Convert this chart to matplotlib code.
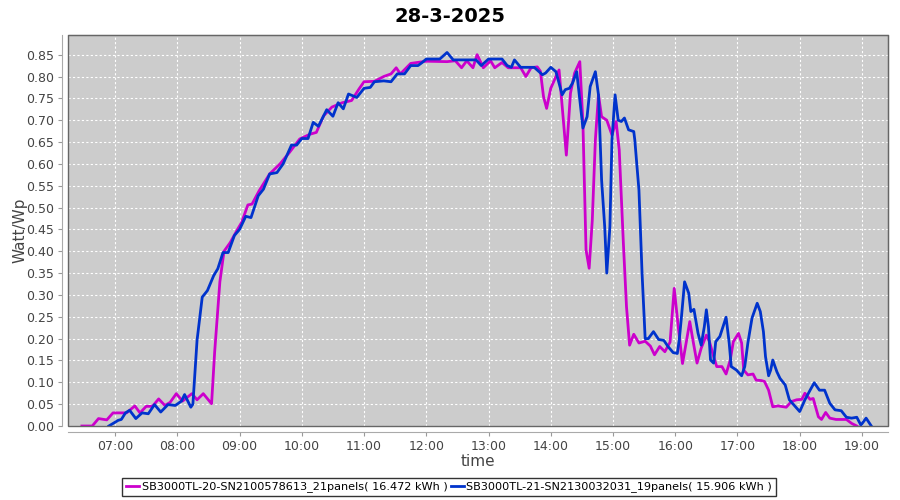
import matplotlib
matplotlib.use("Agg")
import matplotlib.pyplot as plt
import matplotlib.dates as mdates
from matplotlib.patches import Rectangle
import pandas as pd

day = "2025-03-28 "

# SB3000TL-20 (magenta)
sb20_times = ["06:28", "06:38", "06:44", "06:52", "06:58", "07:11", "07:19", "07:24", "07:30", "07:36",
              "07:42", "07:48", "07:53", "07:59", "08:05", "08:14", "08:19", "08:25", "08:33", "08:36",
              "08:41", "08:45", "08:48", "08:51", "08:58", "09:02", "09:08", "09:12", "09:19", "09:29",
              "09:39", "09:48", "09:58", "10:08", "10:14", "10:21", "10:29", "10:39", "10:48", "10:55",
              "11:00", "11:10", "11:19", "11:26", "11:31", "11:35", "11:45", "12:00", "12:20", "12:28",
              "12:34", "12:39", "12:45", "12:49", "12:55", "13:02", "13:06", "13:13", "13:19", "13:31",
              "13:36", "13:41", "13:47", "13:50", "13:53", "13:56", "14:00", "14:05", "14:08", "14:11",
              "14:15", "14:19", "14:23", "14:28", "14:31", "14:34", "14:37", "14:40", "14:43", "14:46",
              "14:49", "14:54", "14:59", "15:03", "15:06", "15:10", "15:13", "15:16", "15:20", "15:25",
              "15:31", "15:36", "15:40", "15:45", "15:50", "15:55", "15:59", "16:03", "16:07", "16:11",
              "16:14", "16:17", "16:21", "16:25", "16:30", "16:33", "16:37", "16:40", "16:45", "16:49",
              "16:53", "16:56", "17:01", "17:04", "17:06", "17:10", "17:15", "17:18", "17:23", "17:26",
              "17:30", "17:34", "17:39", "17:47", "17:52", "17:57", "18:02", "18:05", "18:10", "18:13",
              "18:18", "18:21", "18:25", "18:29", "18:35", "18:45", "18:50", "18:55"]
sb20_vals = [0.0, 0.0, 0.017, 0.014, 0.030, 0.030, 0.046, 0.030, 0.045, 0.045,
             0.062, 0.047, 0.054, 0.074, 0.057, 0.074, 0.060, 0.074, 0.051, 0.17,
             0.33, 0.40, 0.41, 0.42, 0.45, 0.466, 0.506, 0.508, 0.539, 0.577,
             0.600, 0.626, 0.657, 0.668, 0.672, 0.710, 0.730, 0.740, 0.745, 0.771,
             0.788, 0.789, 0.800, 0.806, 0.820, 0.806, 0.830, 0.835, 0.834, 0.836,
             0.820, 0.836, 0.820, 0.850, 0.820, 0.836, 0.820, 0.832, 0.820, 0.820,
             0.800, 0.820, 0.822, 0.812, 0.754, 0.727, 0.773, 0.800, 0.815, 0.731,
             0.620, 0.762, 0.808, 0.834, 0.693, 0.403, 0.361, 0.470, 0.655, 0.758,
             0.708, 0.700, 0.666, 0.697, 0.632, 0.418, 0.273, 0.185, 0.210, 0.190,
             0.194, 0.183, 0.163, 0.182, 0.170, 0.192, 0.315, 0.225, 0.143, 0.197,
             0.239, 0.197, 0.144, 0.178, 0.208, 0.193, 0.159, 0.136, 0.136, 0.119,
             0.151, 0.193, 0.212, 0.190, 0.128, 0.117, 0.119, 0.105, 0.104, 0.102,
             0.082, 0.044, 0.046, 0.043, 0.056, 0.060, 0.061, 0.075, 0.061, 0.063,
             0.021, 0.015, 0.031, 0.018, 0.015, 0.015, 0.006, 0.0]

# SB3000TL-21 (blue)
sb21_times = ["06:54", "07:03", "07:06", "07:10", "07:14", "07:20", "07:26", "07:32", "07:38", "07:44",
              "07:51", "07:58", "08:04", "08:07", "08:13", "08:15", "08:19", "08:24", "08:29", "08:35",
              "08:39", "08:44", "08:49", "08:55", "09:00", "09:06", "09:11", "09:18", "09:23", "09:29",
              "09:36", "09:42", "09:50", "09:55", "10:00", "10:06", "10:11", "10:16", "10:24", "10:30",
              "10:35", "10:40", "10:45", "10:53", "11:00", "11:06", "11:10", "11:19", "11:26", "11:32",
              "11:39", "11:45", "11:52", "11:56", "12:00", "12:13", "12:20", "12:26", "12:39", "12:48",
              "12:53", "13:00", "13:13", "13:18", "13:22", "13:25", "13:31", "13:44", "13:52", "13:55",
              "14:00", "14:05", "14:11", "14:14", "14:18", "14:21", "14:25", "14:28", "14:31", "14:35",
              "14:38", "14:43", "14:46", "14:49", "14:52", "14:54", "14:57", "14:59", "15:02", "15:05",
              "15:08", "15:11", "15:15", "15:20", "15:21", "15:25", "15:28", "15:31", "15:34", "15:39",
              "15:44", "15:49", "15:53", "15:58", "16:02", "16:04", "16:06", "16:09", "16:13", "16:15",
              "16:18", "16:22", "16:25", "16:28", "16:30", "16:32", "16:34", "16:37", "16:39", "16:43",
              "16:46", "16:49", "16:52", "16:54", "16:59", "17:04", "17:07", "17:10", "17:14", "17:19",
              "17:22", "17:25", "17:27", "17:30", "17:32", "17:34", "17:38", "17:41", "17:46", "17:50",
              "17:56", "18:00", "18:05", "18:10", "18:14", "18:19", "18:24", "18:29", "18:34", "18:40",
              "18:45", "18:50", "18:55", "18:59", "19:04", "19:09"]
sb21_vals = [0.0, 0.013, 0.015, 0.030, 0.036, 0.017, 0.030, 0.028, 0.049, 0.032,
             0.049, 0.047, 0.057, 0.072, 0.043, 0.050, 0.196, 0.295, 0.310, 0.344,
             0.360, 0.397, 0.397, 0.436, 0.450, 0.480, 0.477, 0.527, 0.542, 0.577,
             0.580, 0.600, 0.643, 0.643, 0.658, 0.658, 0.695, 0.686, 0.724, 0.709,
             0.740, 0.726, 0.760, 0.752, 0.773, 0.775, 0.788, 0.790, 0.788, 0.806,
             0.806, 0.825, 0.825, 0.832, 0.840, 0.840, 0.855, 0.838, 0.838, 0.838,
             0.825, 0.840, 0.840, 0.825, 0.821, 0.838, 0.821, 0.821, 0.804, 0.808,
             0.821, 0.811, 0.758, 0.770, 0.773, 0.785, 0.811, 0.746, 0.682, 0.708,
             0.777, 0.811, 0.758, 0.563, 0.456, 0.350, 0.456, 0.655, 0.758, 0.700,
             0.697, 0.705, 0.678, 0.674, 0.655, 0.540, 0.350, 0.200, 0.200, 0.216,
             0.198, 0.196, 0.182, 0.168, 0.166, 0.200, 0.250, 0.330, 0.304, 0.262,
             0.267, 0.212, 0.185, 0.227, 0.266, 0.227, 0.151, 0.144, 0.193, 0.205,
             0.227, 0.249, 0.190, 0.136, 0.128, 0.115, 0.136, 0.190, 0.247, 0.281,
             0.262, 0.216, 0.159, 0.115, 0.128, 0.151, 0.124, 0.109, 0.094, 0.060,
             0.044, 0.033, 0.060, 0.082, 0.099, 0.082, 0.082, 0.052, 0.037, 0.035,
             0.020, 0.018, 0.020, 0.002, 0.018, 0.0]

sb20_label = "SB3000TL-20-SN2100578613_21panels( 16.472 kWh )"
sb21_label = "SB3000TL-21-SN2130032031_19panels( 15.906 kWh )"
y_ticks = [0.00, 0.05, 0.10, 0.15, 0.20, 0.25, 0.30, 0.35, 0.40, 0.45, 0.50,
           0.55, 0.60, 0.65, 0.70, 0.75, 0.80, 0.85]

t20 = pd.to_datetime([day + t for t in sb20_times])
t21 = pd.to_datetime([day + t for t in sb21_times])

plt.rcParams['font.family'] = ['DejaVu Sans']
fig = plt.figure(figsize=(9, 5), dpi=100)
ax = fig.add_axes([68/900, 74/500, 820/900, 391/500])
ax.set_facecolor('#cccccc')

ax.plot(t20, sb20_vals, color='#cc00cc', lw=2, label=sb20_label, zorder=3)
ax.plot(t21, sb21_vals, color='#0033cc', lw=2, label=sb21_label, zorder=3)

ax.set_xlim(pd.Timestamp(day + "06:14:36"), pd.Timestamp(day + "19:25:06"))
ax.set_ylim(0, 0.895)
ax.set_yticks(y_ticks)
ax.yaxis.set_major_formatter(matplotlib.ticker.FormatStrFormatter('%.2f'))
ax.xaxis.set_major_locator(mdates.HourLocator())
ax.xaxis.set_major_formatter(mdates.DateFormatter('%H:%M'))

ax.grid(True, color='white', linestyle=(0, (2, 2)), linewidth=0.8)
ax.set_axisbelow(True)

# plot border plus axis lines set a few pixels outside it (JFreeChart look)
for side in ['top', 'right']:
    ax.spines[side].set_color('#666666')
for side in ['left', 'bottom']:
    ax.spines[side].set_position(('outward', 4))
    ax.spines[side].set_color('#aaaaaa')
ax.add_patch(Rectangle((0, 0), 1, 1, transform=ax.transAxes, fill=False,
                       edgecolor='#666666', lw=1, zorder=4, clip_on=False))
ax.tick_params(labelsize=9, labelcolor='#444444', color='#999999', length=3, pad=3)

ax.set_xlabel('time', fontsize=11, color='#444444', labelpad=0.5)
ax.set_ylabel('Watt/Wp', fontsize=11, color='#444444', labelpad=-1)
fig.suptitle('28-3-2025', fontsize=14, fontweight='bold', y=0.986)

leg = fig.legend(loc='center', bbox_to_anchor=(449/900, 13/500), ncol=2, fontsize=8.1,
                 frameon=True, fancybox=False, edgecolor='black', handlelength=1.2,
                 handletextpad=0.2, columnspacing=0.3, borderpad=0.3)
leg.get_frame().set_linewidth(1)

fig.savefig('out.png', dpi=100)
